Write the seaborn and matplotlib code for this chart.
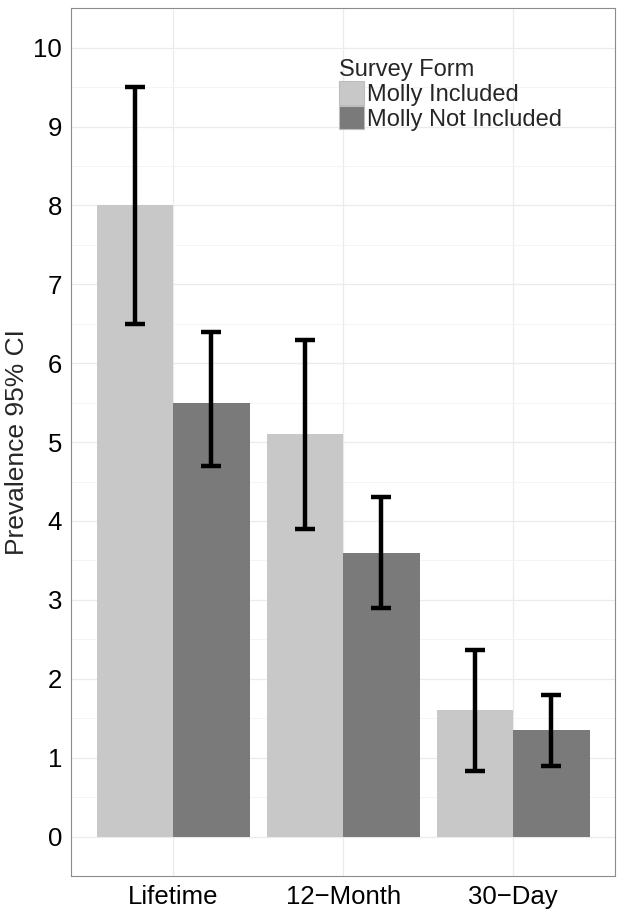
import pandas as pd
import numpy as np
import matplotlib
matplotlib.use('Agg')
import matplotlib.pyplot as plt
from matplotlib.ticker import MultipleLocator
import seaborn as sns

# ── Data ──────────────────────────────────────────────────
periods = ['Lifetime', '12\u2212Month', '30\u2212Day']
forms = ['Molly Included', 'Molly Not Included']
prev_incl = [8.0, 5.1, 1.6]
low_incl = [6.5, 3.9, 0.83]
high_incl = [9.5, 6.3, 2.36]
prev_not = [5.5, 3.6, 1.35]
low_not = [4.7, 2.9, 0.90]
high_not = [6.4, 4.3, 1.80]

df = pd.DataFrame({
    'period': periods * 2,
    'form': [forms[0]] * 3 + [forms[1]] * 3,
    'prev': prev_incl + prev_not,
    'low': low_incl + low_not,
    'high': high_incl + high_not,
})

# ── Style ─────────────────────────────────────────────────
sns.set_style('white')
plt.rcParams['font.family'] = ['Liberation Sans', 'DejaVu Sans']

fig, ax = plt.subplots(figsize=(6.24, 9.18), dpi=100)
fig.subplots_adjust(left=0.114, right=0.986, top=0.991, bottom=0.0458)

sns.barplot(data=df, x='period', y='prev', hue='form', order=periods,
            hue_order=forms, palette=['#c8c8c8', '#7a7a7a'], width=0.9,
            errorbar=None, saturation=1, ax=ax, zorder=2, linewidth=0)

# error bars, placed on the drawn bars
for cont, form in zip(ax.containers, forms):
    sub = df[df['form'] == form].set_index('period').loc[periods]
    xs = [b.get_x() + b.get_width() / 2 for b in cont]
    ys = sub['prev'].values
    yerr = [ys - sub['low'].values, sub['high'].values - ys]
    ax.errorbar(xs, ys, yerr=yerr, fmt='none', ecolor='black',
                elinewidth=3.2, capsize=7.5, capthick=3.2, zorder=3)

# ── Axes ──────────────────────────────────────────────────
ax.set_ylim(-0.5, 10.5)
ax.set_xlim(-0.6, 2.6)
ax.yaxis.set_major_locator(MultipleLocator(1))
ax.yaxis.set_minor_locator(MultipleLocator(0.5))
ax.grid(which='major', color='#ebebeb', linewidth=0.9, zorder=0)
ax.grid(which='minor', axis='y', color='#f3f3f3', linewidth=0.6, zorder=0)
ax.set_axisbelow(True)
for s in ax.spines.values():
    s.set_color('#8c8c8c')
    s.set_linewidth(0.8)
ax.tick_params(axis='both', which='major', length=3.5, width=0.8,
               color='#7f7f7f', labelsize=18.5, labelcolor='black', pad=3)
ax.tick_params(axis='y', which='minor', length=0)
ax.set_xlabel('')
ax.set_ylabel('Prevalence 95% CI', fontsize=19, labelpad=3)

leg = ax.legend(title='Survey Form', loc='upper left',
                bbox_to_anchor=(0.471, 0.955), frameon=False, fontsize=17,
                title_fontsize=17, handlelength=1.05, handleheight=1.15,
                handletextpad=0.12, labelspacing=0.0, borderpad=0,
                alignment='left')
for h in leg.legend_handles:
    h.set_edgecolor('#bdbdbd')
    h.set_linewidth(0.8)

plt.savefig('out.png', dpi=100)
